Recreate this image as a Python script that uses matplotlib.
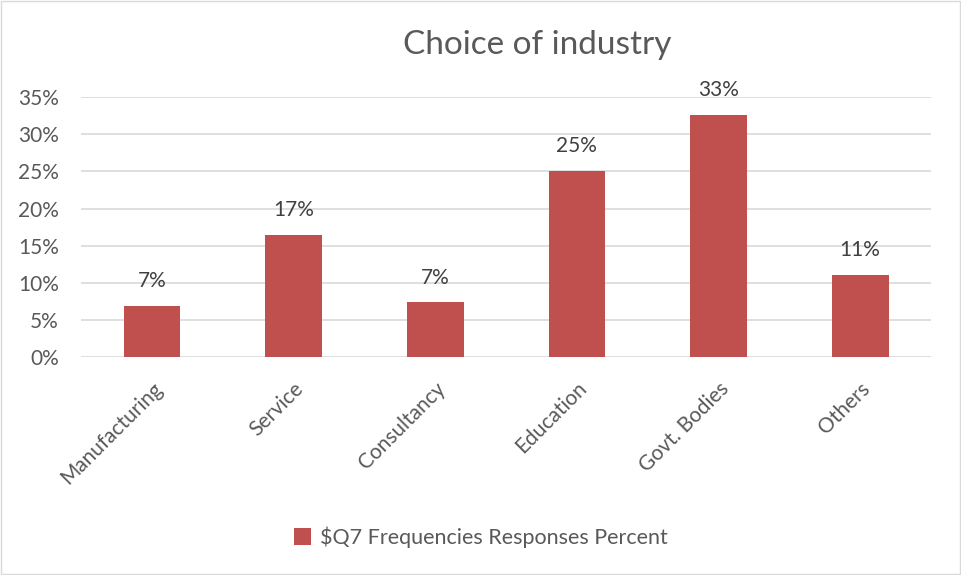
import matplotlib
matplotlib.use("Agg")
import matplotlib.pyplot as plt
from matplotlib.patches import Rectangle

categories = ["Manufacturing", "Service", "Consultancy", "Education", "Govt. Bodies", "Others"]
percent = [6.94, 16.5, 7.39, 25.1, 32.6, 11.07]
labels = ["7%", "17%", "7%", "25%", "33%", "11%"]
yticks = [0, 5, 10, 15, 20, 25, 30, 35]

BAR = "#C0504D"
GRID = "#D9D9D9"
TXT = "#595959"
LBL = "#404040"

plt.rcParams["font.family"] = ["Lato", "DejaVu Sans"]

fig = plt.figure(figsize=(9.61, 5.75), dpi=100)
ax = fig.add_axes([0.0843, 0.3786, 0.8845, 0.4527])

x = list(range(len(categories)))
ax.bar(x, percent, width=0.4, color=BAR, zorder=3, label="$Q7 Frequencies Responses Percent")
for xi, v, t in zip(x, percent, labels):
    ax.text(xi, v + 1.95, t, ha="center", va="bottom", fontsize=15, color=LBL)

ax.set_xlim(-0.5, len(categories) - 0.5)
ax.set_ylim(0, 35)
ax.set_yticks(yticks)
ax.set_yticklabels([f"{t}%" for t in yticks], fontsize=15, color=TXT)
ax.set_xticks(x)
ax.set_xticklabels(categories, rotation=45, ha="right", rotation_mode="anchor",
                   fontsize=15, color=TXT)
ax.tick_params(axis="y", length=0, pad=16)
ax.tick_params(axis="x", length=0, pad=15)
ax.grid(True, axis="y", color=GRID, linewidth=1.2, zorder=0)
for s in ax.spines.values():
    s.set_visible(False)

fig.text(0.559, 0.922, "Choice of industry", ha="center", va="center", fontsize=24, color=TXT)

leg = fig.legend(loc="center", bbox_to_anchor=(0.5, 0.066), frameon=False, fontsize=15.5,
                 handlelength=0.8, handleheight=0.8, handletextpad=0.4)
for t in leg.get_texts():
    t.set_color(TXT)

fig.patches.append(Rectangle((0.001, 0.001), 0.998, 0.998, transform=fig.transFigure,
                             fill=False, edgecolor="#D9D9D9", linewidth=1))

fig.savefig("out.png", dpi=100, facecolor="white")
